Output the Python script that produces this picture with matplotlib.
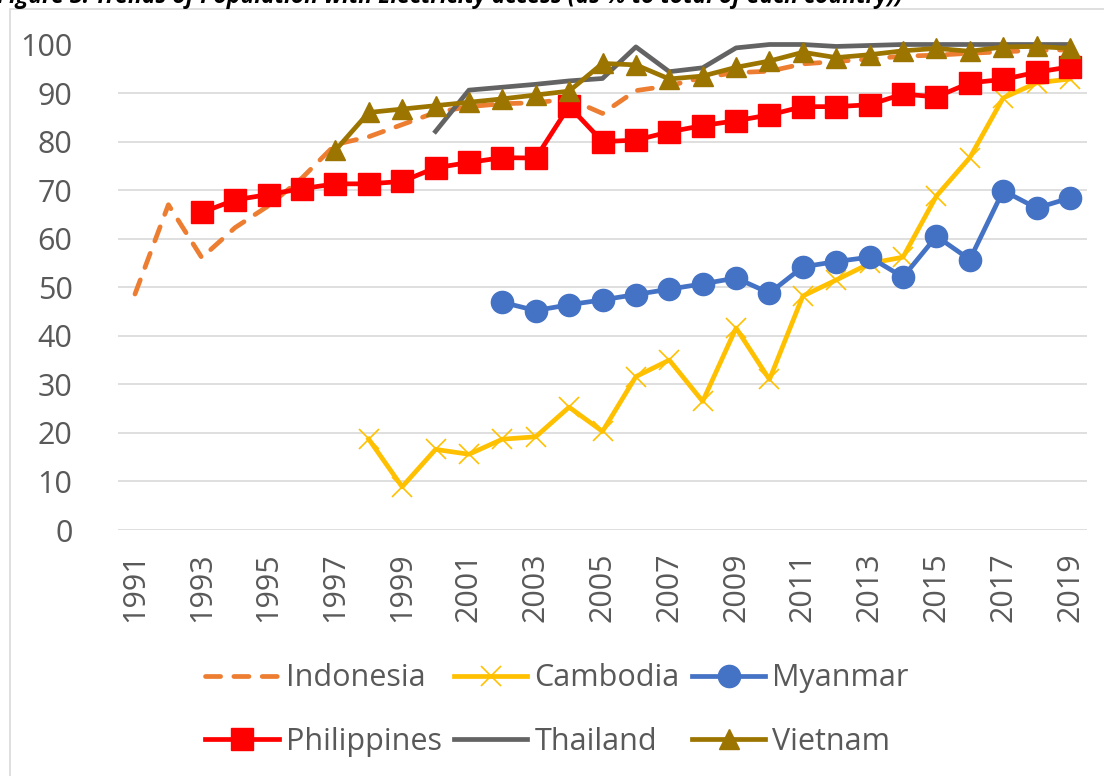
import matplotlib
matplotlib.use("Agg")
import matplotlib.pyplot as plt
from matplotlib.patches import Rectangle
import numpy as np

nan = np.nan

years = list(range(1991, 2020))
tick_years = list(range(1991, 2020, 2))

indonesia = [48.6, 67.0, 56.1, 62.3, 66.8, 72.5, 79.4, 81.0, 83.5, 86.0, 87.2, 87.8, 88.0,
             88.8, 85.8, 90.5, 91.5, 93.2, 94.2, 94.5, 96.0, 96.5, 97.0, 97.6, 97.8, 98.2,
             98.5, 98.8, 98.9]
cambodia = [nan] * 7 + [18.7, 8.9, 16.6, 15.6, 18.7, 19.2, 25.3, 20.3, 31.6, 35.0, 26.5, 41.6,
                        31.0, 48.2, 51.5, 54.9, 56.2, 68.8, 76.7, 89.0, 92.1, 92.9]
myanmar = [nan] * 11 + [46.9, 45.2, 46.4, 47.4, 48.5, 49.6, 50.7, 51.9, 48.8, 54.2, 55.3,
                        56.2, 52.1, 60.5, 55.7, 69.9, 66.3, 68.4]
philippines = [nan, nan, 65.4, 68.0, 69.1, 70.3, 71.3, 71.3, 71.8, 74.6, 75.7, 76.7, 76.6,
               87.3, 80.0, 80.3, 82.0, 83.3, 84.3, 85.5, 87.2, 87.2, 87.6, 89.8, 89.2, 92.1,
               92.8, 94.3, 95.4]
thailand = [nan] * 9 + [82.1, 90.6, 91.2, 91.8, 92.5, 93.0, 99.5, 94.4, 95.2, 99.3, 100.0,
                        100.0, 99.6, 99.8, 100.0, 100.0, 100.0, 100.0, 100.0, 100.0]
vietnam = [nan] * 6 + [78.2, 86.0, 86.7, 87.4, 88.1, 88.8, 89.6, 90.4, 96.1, 95.8, 92.9,
                       93.5, 95.3, 96.6, 98.4, 97.3, 97.9, 98.7, 99.2, 98.6, 99.5, 99.6, 99.2]

plt.rcParams['font.family'] = ['Open Sans', 'DejaVu Sans']

fig = plt.figure(figsize=(11.04, 7.76), dpi=100)

# chart frame
fig.patches.append(Rectangle((10 / 1104, -0.05), 1.2, 0.05 + (776 - 9) / 776,
                             transform=fig.transFigure, fill=False,
                             edgecolor='#d9d9d9', linewidth=1.2))

# title cut off at the top, like in the source picture
fig.text(-0.003, 1 - 3 / 776,
         "Figure 3. Trends of Population with Electricity access (as % to total of each country))",
         fontsize=16.5, fontweight='bold', style='italic', color='black', va='baseline')

ax = fig.add_axes([118.3 / 1104, 246 / 776, (1086.7 - 118.3) / 1104, (731.5 - 246) / 776])

lw = 3.4
ax.plot(years, indonesia, color='#ED7D31', lw=lw, dashes=(3.2, 2.8),
        dash_capstyle='round', label='Indonesia', clip_on=False)
ax.plot(years, cambodia, color='#FFC000', lw=lw, marker='x', markersize=15,
        markeredgewidth=1.2, label='Cambodia', clip_on=False)
ax.plot(years, myanmar, color='#4472C4', lw=lw, marker='o', markersize=16,
        label='Myanmar', clip_on=False)
ax.plot(years, philippines, color='#FF0000', lw=lw, marker='s', markersize=16,
        label='Philippines', clip_on=False)
ax.plot(years, thailand, color='#636363', lw=lw, label='Thailand', clip_on=False)
ax.plot(years, vietnam, color='#9C7500', lw=lw, marker='^', markersize=15,
        label='Vietnam', clip_on=False)

ax.set_xlim(1990.5, 2019.5)
ax.set_ylim(0, 100)
ax.set_yticks(range(0, 101, 10))
ax.set_xticks(tick_years)
ax.set_xticklabels([str(y) for y in tick_years], rotation=90)
ax.tick_params(axis='both', length=0, labelsize=22, labelcolor='#595959')
ax.tick_params(axis='y', pad=33)
ax.tick_params(axis='x', pad=16)
ax.grid(axis='y', color='#d9d9d9', linewidth=1.2)
ax.set_axisbelow(True)
for s in ax.spines.values():
    s.set_visible(False)

handles, labels = ax.get_legend_handles_labels()
order = [0, 3, 1, 4, 2, 5]
leg = fig.legend([handles[i] for i in order], [labels[i] for i in order],
                 ncol=3, loc='center', bbox_to_anchor=(557 / 1104, 66 / 776),
                 frameon=False, fontsize=22, handlelength=2.4, handletextpad=0.23,
                 columnspacing=0.4, labelspacing=1.1, borderpad=0)
for t in leg.get_texts():
    t.set_color('#595959')

fig.savefig('out.png', dpi=100)
